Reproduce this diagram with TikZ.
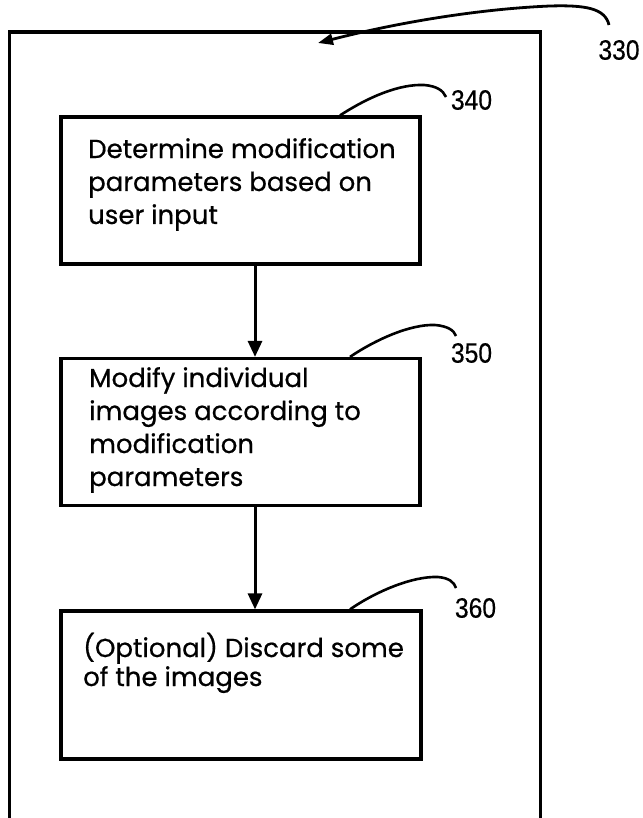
\documentclass[tikz,border=0pt]{standalone}
\usepackage{fontspec}
\usepackage{graphicx}
\setmainfont{Poppins}[FakeBold=0.6]
\newfontfamily\labelfont{Liberation Sans}[FakeBold=0.4]
\usetikzlibrary{arrows.meta}
\begin{document}
\begin{tikzpicture}[x=1pt,y=-1pt,
  box/.style={draw, line width=3.2pt, minimum width=359pt, minimum height=147pt, inner sep=0pt},
  txt/.style={font=\fontsize{26}{33}\selectfont, align=left, inner sep=0pt, anchor=base west},
  lbl/.style={font=\labelfont\fontsize{28}{28}\selectfont, inner sep=0pt},
  flow/.style={line width=3pt, -{Triangle[length=16pt,width=14pt]}},
  lead/.style={line width=2.6pt},
  leadarrow/.style={line width=2.8pt, -{Triangle[length=15pt,width=11pt]}}]
\useasboundingbox (0,0) rectangle (642,818);
% outer frame (bottom edge runs off the sheet)
\draw[line width=3.2pt] (9.5,830) -- (9.5,32) -- (540.5,32) -- (540.5,830);
% boxes
\node[box] (b340) at (240.5,190.5) {};
\node[box] (b350) at (240.5,432) {};
\node[box, minimum width=360pt, minimum height=148pt] (b360) at (241,685) {};
% texts (anchored at the baseline of their last line)
\node[txt] (t340) at (88,224) {Determine modification\\parameters based on\\user input};
\node[txt] (t350) at (89,486) {Modify individual\\images according to\\modification\\parameters};
\node[txt, font=\fontsize{26}{29}\selectfont] (t360) at (83,686) {(Optional) Discard some\\of the images};
% flow arrows
\draw[flow] ([xshift=14.5pt]b340.south) -- ([xshift=14.5pt]b350.north);
\draw[flow] ([xshift=14.5pt]b350.south) -- ([xshift=14pt]b360.north);
% labels
\node[lbl] (l330) at (619,50) {\scalebox{0.88}[1]{330}};
\node[lbl] (l340) at (471.5,100) {\scalebox{0.88}[1]{340}};
\node[lbl] (l350) at (471.5,353) {\scalebox{0.88}[1]{350}};
\node[lbl] (l360) at (475.5,608) {\scalebox{0.88}[1]{360}};
% leader ends
\coordinate (h330) at (609,25);
\coordinate (a330) at (318,43);
\coordinate (h340) at (446,97);
\coordinate (h350) at (456,336);
\coordinate (h360) at (456,588);
% leaders
\draw[leadarrow] (h330) .. controls (605,8) and (585,5) .. (550,6) .. controls (480,9) and (400,22) .. (a330);
\draw[lead] ([xshift=99.5pt]b340.north) .. controls (370,96) and (400,84) .. (424,85) .. controls (436,86) and (443,90) .. (h340);
\draw[lead] ([xshift=109.5pt]b350.north) .. controls (375,340) and (410,324) .. (435,325) .. controls (447,326) and (454,330) .. (h350);
\draw[lead] ([xshift=109pt]b360.north) .. controls (375,592) and (412,576) .. (438,577) .. controls (449,578) and (454,582) .. (h360);
\end{tikzpicture}
\end{document}
